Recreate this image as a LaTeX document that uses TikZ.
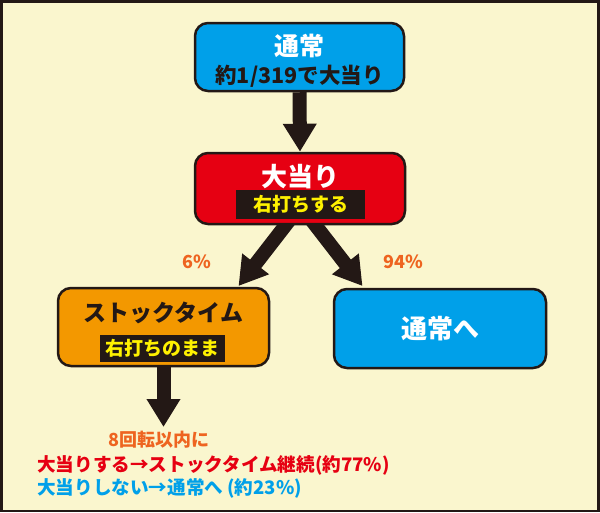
\documentclass[tikz,border=0pt]{standalone}
\usepackage{fontspec}
\setmainfont{Noto Sans CJK JP}
\usetikzlibrary{arrows.meta}
\definecolor{bgc}{HTML}{FAF6CE}
\definecolor{ink}{HTML}{231815}
\definecolor{cblue}{HTML}{00A0E9}
\definecolor{cred}{HTML}{E60012}
\definecolor{corange}{HTML}{F39800}
\definecolor{ctext}{HTML}{EE6420}
\definecolor{cyel}{HTML}{FFF100}
\pgfdeclarelayer{backlayer}
\pgfdeclarelayer{arrowlayer}
\pgfsetlayers{backlayer,arrowlayer,main}
\begin{document}
\begin{tikzpicture}[x=1pt,y=-1pt,
  box/.style={draw=ink, line width=2.5pt, rounded corners=13pt, inner sep=0pt},
  fnt/.style={font=\bfseries\fontsize{#1}{#1}\selectfont},
  lbl/.style={inner sep=0pt},
  tag/.style={fill=ink, text=cyel, fnt=19, inner sep=0pt},
  bigarrow/.style={draw=ink, line width=14pt, -{Triangle[length=28pt,width=32pt]}},
  pct/.style={text=ctext, fnt=18, inner sep=0pt}
]
\begin{pgfonlayer}{backlayer}
\fill[ink] (0,0) rectangle (600,512);
\fill[bgc] (2.5,2.5) rectangle (597,509.5);
\end{pgfonlayer}
\useasboundingbox (0,0) rectangle (600,512);

% boxes
\node[box, fill=cblue, minimum width=209pt, minimum height=68pt] (normal) at (299.5,57) {};
\node[lbl, text=white, fnt=25] (normalT) at (299.5,46) {通常};
\node[lbl, text=ink, fnt=21.5] (normalS) at (299.5,76) {約1/319で大当り};

\node[box, fill=cred, minimum width=210pt, minimum height=71pt] (hit) at (300,188.5) {};
\node[lbl, text=white, fnt=26] (hitT) at (300,177) {大当り};
\node[tag, minimum width=129pt, minimum height=29pt] (hitS) at (300.5,204.5) {右打ちする};

\node[box, fill=corange, minimum width=211pt, minimum height=78pt] (stock) at (163.5,327) {};
\node[lbl, text=ink, fnt=23] (stockT) at (163.5,313) {ストックタイム};
\node[tag, minimum width=125pt, minimum height=27pt] (stockS) at (162.5,348.5) {右打ちのまま};

\node[box, fill=cblue, minimum width=212pt, minimum height=79pt] (back) at (440,328.5) {};
\node[lbl, text=white, fnt=26] (backT) at (440,328.5) {通常へ};

% connector ends
\coordinate (ls) at (293.5,215);
\coordinate (le) at (238.5,286);
\coordinate (rs) at (307.5,215);
\coordinate (re) at (362.5,286);
\coordinate (sd) at (163.5,427);

\begin{pgfonlayer}{arrowlayer}
\draw[bigarrow] (normal.south) -- (hit.north);
\draw[bigarrow] (ls) -- (le);
\draw[bigarrow] (rs) -- (re);
\draw[bigarrow] (stock.south) -- (sd);
\end{pgfonlayer}

% labels
\node[pct] (p6) at (197,262) {6\%};
\node[pct] (p94) at (403,262) {94\%};

\node[lbl, text=ctext, fnt=18] (n1) at (159,440) {8回転以内に};
\node[lbl, text=cred, fnt=18.6, anchor=west] (n2) at (37,465) {大当りする→ストックタイム継続(約77\%)};
\node[lbl, text=cblue, fnt=18.6, anchor=west] (n3) at (37,488) {大当りしない→通常へ (約23\%)};
\end{tikzpicture}
\end{document}
